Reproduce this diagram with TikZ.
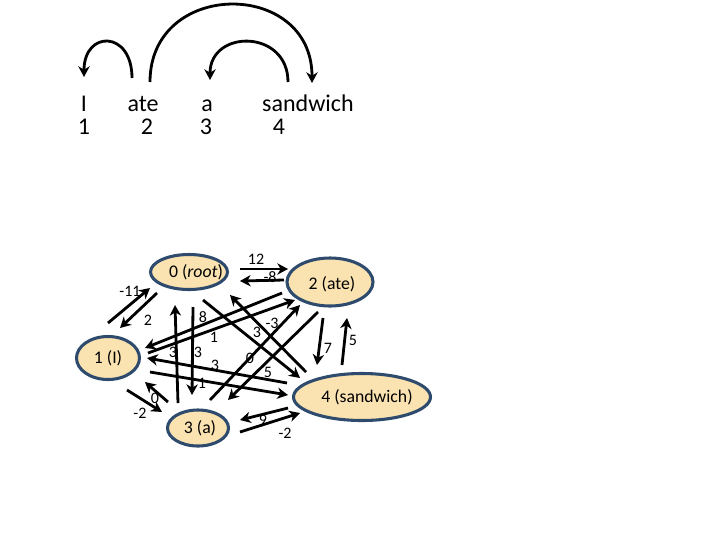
\documentclass[tikz,border=0pt]{standalone}
\usepackage{fontspec}
\setmainfont{Carlito}
\usetikzlibrary{arrows.meta,shapes.geometric}
\definecolor{nodefill}{HTML}{FBE3B1}
\definecolor{nodeborder}{HTML}{2E4B6E}
\begin{document}
\begin{tikzpicture}[x=0.75pt,y=-0.75pt,
  wnode/.style={ellipse, draw=nodeborder, fill=nodefill, line width=2.3pt, inner sep=0pt},
  ntext/.style={font=\fontsize{13.3}{15}\selectfont, inner sep=0pt},
  arr/.style={line width=2.1pt, -{Stealth[length=8pt,width=8.5pt,inset=2.5pt]}},
  lab/.style={font=\fontsize{12}{14}\selectfont, inner sep=0pt},
  word/.style={font=\fontsize{18}{20}\selectfont, anchor=base, inner sep=0pt}]
\useasboundingbox (0,0) rectangle (720,540);

% sentence
\node[word] (wI) at (84,111) {I};
\node[word] (wate) at (143,111) {ate};
\node[word] (wa) at (207,111) {a};
\node[word] (wsand) at (308,111) {sandwich};
\node[word] (n1) at (84,134) {1};
\node[word] (n2) at (147,134) {2};
\node[word] (n3) at (206,134) {3};
\node[word] (n4) at (279,134) {4};

\coordinate (a1s) at (132,78); \coordinate (a1e) at (84,77);
\coordinate (a2s) at (150,82); \coordinate (a2e) at (312,83);
\coordinate (a3s) at (288,82); \coordinate (a3e) at (210,80);
\draw[arr] (a1s) .. controls (132,30) and (84,30) .. (a1e);
\draw[arr] (a2s) .. controls (150,-21) and (312,-21) .. (a2e);
\draw[arr] (a3s) .. controls (288,29) and (210,29) .. (a3e);

% graph nodes
\node[wnode, minimum width=57.75pt, minimum height=26.25pt] (r) at (189,272) {};
\node[ntext] (tr) at (196,272) {0 (\textit{root})};
\node[wnode, minimum width=64.5pt, minimum height=36pt] (ate) at (330,282) {};
\node[ntext] (tate) at (332,284) {2 (ate)};
\node[wnode, minimum width=47.25pt, minimum height=32.25pt] (i) at (108,358) {};
\node[ntext] (ti) at (108,358) {1 (I)};
\node[wnode, minimum width=45.75pt, minimum height=27pt] (a) at (198,428) {};
\node[ntext] (ta) at (200,428) {3 (a)};
\node[wnode, minimum width=102.75pt, minimum height=35.25pt] (s) at (362,397) {};
\node[ntext] (ts) at (367,397) {4 (sandwich)};

% endpoints
\coordinate (e01s) at (157,293); \coordinate (e01e) at (120,328);
\coordinate (e10s) at (108,323); \coordinate (e10e) at (150,288);
\coordinate (e02s) at (240,269); \coordinate (e02e) at (288,269);
\coordinate (e20s) at (284,280); \coordinate (e20e) at (240,281);
\coordinate (e30s) at (178,403); \coordinate (e30e) at (175,305);
\coordinate (e03s) at (193,307); \coordinate (e03e) at (192,395);
\coordinate (e04s) at (203,300); \coordinate (e04e) at (300,378);
\coordinate (e40s) at (306,372); \coordinate (e40e) at (230,295);
\coordinate (e21s) at (282,293); \coordinate (e21e) at (145,348);
\coordinate (e12s) at (148,353); \coordinate (e12e) at (295,300);
\coordinate (e41s) at (287,383); \coordinate (e41e) at (147,358);
\coordinate (e14s) at (150,372); \coordinate (e14e) at (288,395);
\coordinate (e32s) at (210,400); \coordinate (e32e) at (300,305);
\coordinate (e23s) at (318,312); \coordinate (e23e) at (228,400);
\coordinate (e24s) at (323,318); \coordinate (e24e) at (317,365);
\coordinate (e42s) at (342,365); \coordinate (e42e) at (347,318);
\coordinate (e43s) at (288,408); \coordinate (e43e) at (240,420);
\coordinate (e34s) at (240,432); \coordinate (e34e) at (300,413);
\coordinate (e13s) at (127,390); \coordinate (e13e) at (162,412);
\coordinate (e31s) at (168,402); \coordinate (e31e) at (145,382);

\foreach \e in {01,10,02,20,30,03,04,40,21,12,41,14,32,23,24,42,43,34,13,31}
  \draw[arr] (e\e s) -- (e\e e);

% labels
\node[lab] (l01) at (148,320) {2};
\node[lab] (l10) at (130,291) {-11};
\node[lab] (l02) at (256,259) {12};
\node[lab] (l20) at (270,277) {-8};
\node[lab] (l30) at (173,352) {3};
\node[lab] (l03) at (198,352) {3};
\node[lab] (l04) at (257,332) {3};
\node[lab] (l40) at (272,323) {-3};
\node[lab] (l21) at (203,317) {8};
\node[lab] (l12) at (214,337) {1};
\node[lab] (l41) at (215,365) {3};
\node[lab] (l14) at (202,383) {1};
\node[lab] (l32) at (250,358) {0};
\node[lab] (l23) at (268,372) {5};
\node[lab] (l24) at (328,348) {7};
\node[lab] (l42) at (353,340) {5};
\node[lab] (l43) at (263,420) {9};
\node[lab] (l34) at (285,433) {-2};
\node[lab] (l13) at (140,413) {-2};
\node[lab] (l31) at (155,398) {0};
\end{tikzpicture}
\end{document}
